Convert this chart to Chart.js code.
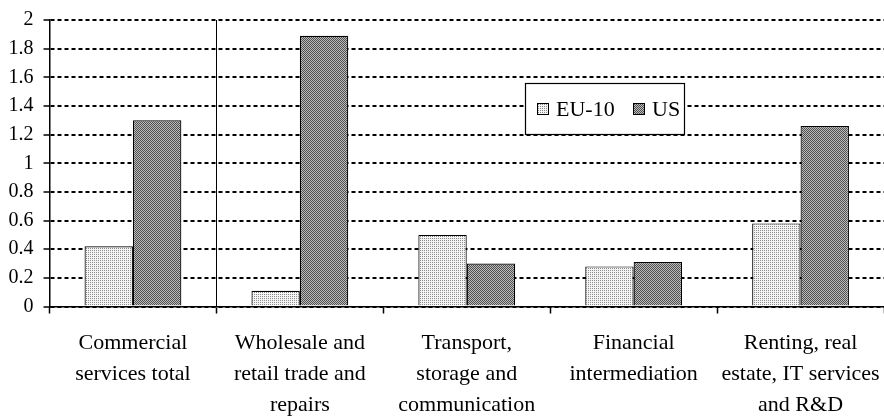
<!DOCTYPE html>
<html>
<head>
<meta charset="utf-8">
<script src="https://cdn.jsdelivr.net/npm/chart.js@4"></script>
<style>
  html, body { margin: 0; padding: 0; background: #fff; }
  #wrap { width: 884px; height: 416px; }
</style>
</head>
<body>
<div id="wrap"><canvas id="chart"></canvas></div>
<script>
const categories = [
    ['Commercial', 'services total'],
    ['Wholesale and', 'retail trade and', 'repairs'],
    ['Transport,', 'storage and', 'communication'],
    ['Financial', 'intermediation'],
    ['Renting, real', 'estate, IT services', 'and R&D']
];
const eu10 = [0.42, 0.11, 0.50, 0.28, 0.58];
const us = [1.30, 1.89, 0.30, 0.31, 1.26];
const seriesNames = ['EU-10', 'US'];
const yTicks = [0, 0.2, 0.4, 0.6, 0.8, 1, 1.2, 1.4, 1.6, 1.8, 2];

// small dotted fills like the print original
const makePattern = (bg, dot, cells) => {
    const c = document.createElement('canvas');
    c.width = 4; c.height = 4;
    const g = c.getContext('2d');
    g.fillStyle = bg;
    g.fillRect(0, 0, 4, 4);
    g.fillStyle = dot;
    cells.forEach(p => g.fillRect(p[0], p[1], 1, 1));
    return g.createPattern(c, 'repeat');
};
const ctx = document.getElementById('chart');
const euFill = makePattern('#f4f4f4', '#8c8c8c', [[0, 0], [2, 0], [0, 2], [2, 2]]);
const usFill = makePattern('#bdbdbd', '#4e4e4e', [[0, 0], [2, 0], [1, 1], [3, 1], [0, 2], [2, 2], [1, 3], [3, 3]]);

const boxLegend = {
    id: 'boxLegend',
    afterDraw(chart) {
        const c = chart.ctx;
        const x = 525, y = 83, w = 159, h = 51;
        c.save();
        c.fillStyle = '#fff';
        c.fillRect(x, y, w, h);
        c.strokeStyle = '#000';
        c.lineWidth = 1.2;
        c.strokeRect(x + 0.5, y + 0.5, w, h);
        c.font = '22px "Liberation Serif"';
        c.textBaseline = 'middle';
        const items = [
            { sx: 537, tx: 556, fill: euFill, label: seriesNames[0] },
            { sx: 633, tx: 652, fill: usFill, label: seriesNames[1] }
        ];
        items.forEach(it => {
            c.fillStyle = it.fill;
            c.fillRect(it.sx, y + 20, 12, 12);
            c.strokeStyle = '#000';
            c.lineWidth = 1;
            c.strokeRect(it.sx + 0.5, y + 20.5, 11, 11);
            c.fillStyle = '#000';
            c.fillText(it.label, it.tx, y + 27);
        });
        c.restore();
    }
};

Chart.defaults.font.family = '"Liberation Serif", serif';
Chart.defaults.color = '#000';

new Chart(ctx, {
    type: 'bar',
    data: {
        labels: categories,
        datasets: [{
            label: seriesNames[0],
            data: eu10,
            backgroundColor: euFill,
            borderColor: '#000',
            borderWidth: 1.2,
            categoryPercentage: 0.58,
            barPercentage: 1
        }, {
            label: seriesNames[1],
            data: us,
            backgroundColor: usFill,
            borderColor: '#000',
            borderWidth: 1.2,
            categoryPercentage: 0.58,
            barPercentage: 1
        }]
    },
    options: {
        responsive: true,
        maintainAspectRatio: false,
        animation: false,
        layout: { padding: { top: 20, right: -3, bottom: 0, left: 0 } },
        scales: {
            y: {
                min: 0,
                max: 2,
                afterBuildTicks: (scale) => {
                    scale.ticks = yTicks.map(v => ({ value: v }));
                },
                afterFit: (scale) => {
                    scale.width = 49.5;
                    scale.paddingTop = 0;
                    scale.paddingBottom = 0;
                },
                ticks: {
                    font: { size: 20 },
                    padding: 10,
                    callback: (v) => String(v)
                },
                grid: {
                    color: '#000',
                    lineWidth: 2,
                    tickLength: 6,
                    tickColor: '#000',
                    tickWidth: 1.5
                },
                border: { color: '#000', width: 1.5, dash: [4, 3] }
            },
            x: {
                afterFit: (scale) => {
                    scale.height = 109.5;
                    scale.paddingLeft = 0;
                    scale.paddingRight = 0;
                },
                ticks: {
                    font: { size: 22, lineHeight: '31px' },
                    padding: 14,
                    maxRotation: 0,
                    autoSkip: false
                },
                grid: {
                    offset: true,
                    color: (c) => c.index === 1 ? '#000' : 'rgba(0,0,0,0)',
                    lineWidth: 1,
                    tickLength: 7,
                    tickColor: '#000',
                    tickWidth: 1.5
                },
                border: { color: '#000', width: 1.5 }
            }
        },
        plugins: {
            legend: { display: false },
            tooltip: { enabled: false }
        }
    },
    plugins: [boxLegend]
});
</script>
</body>
</html>
